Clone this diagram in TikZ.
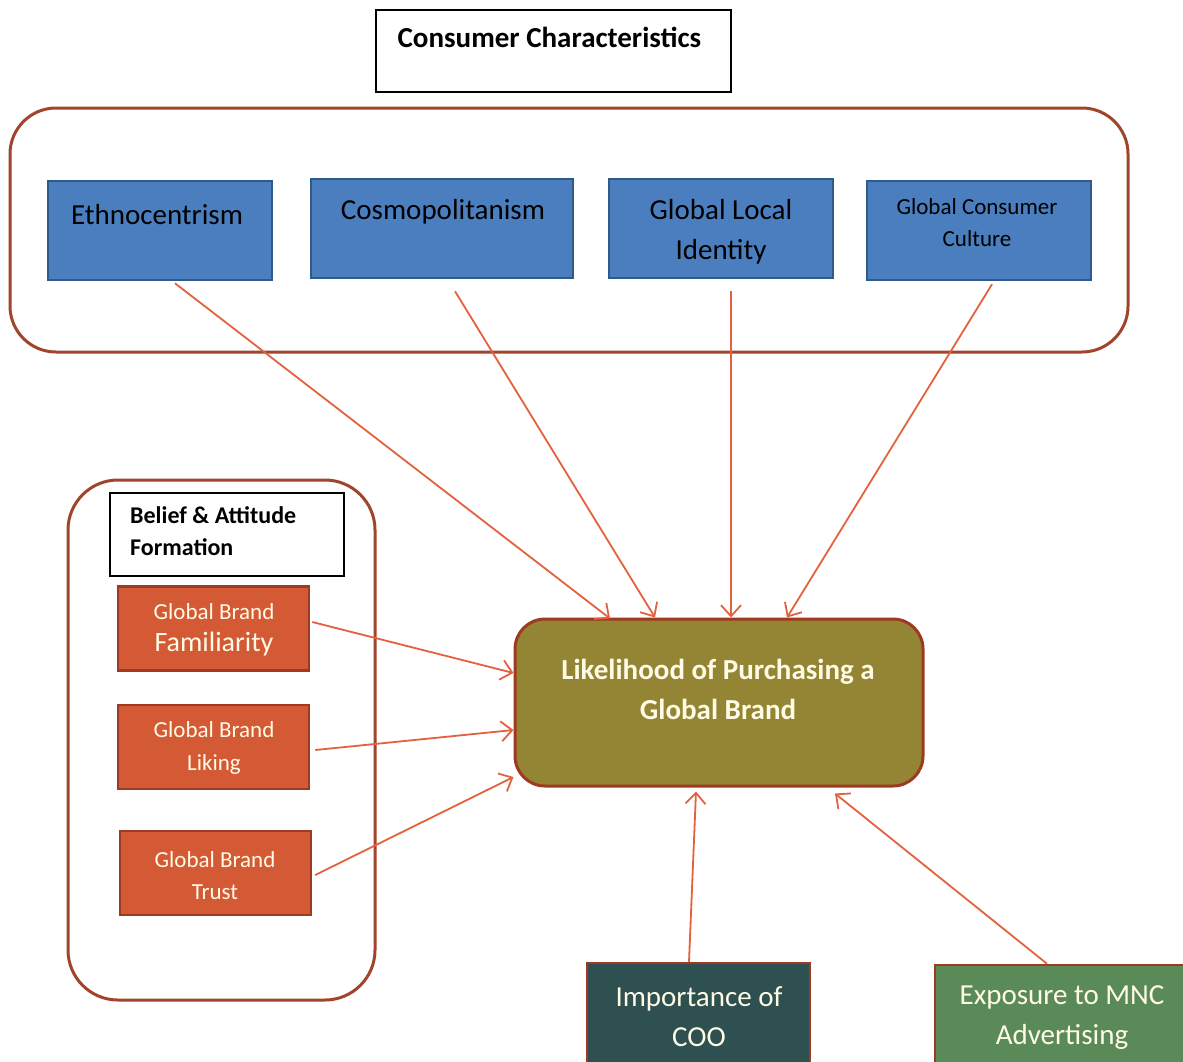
\documentclass[tikz,border=0pt]{standalone}
\usepackage{fontspec}
\setmainfont{Carlito}
\usepackage{xcolor}
\usepackage{tikz}
\usetikzlibrary{arrows.meta,calc}

\definecolor{chblue}{HTML}{4A7EBE}
\definecolor{blueedge}{HTML}{2F5A8A}
\definecolor{framered}{HTML}{A0442B}
\definecolor{brandred}{HTML}{D45A36}
\definecolor{brandedge}{HTML}{9E3A22}
\definecolor{olive}{HTML}{938533}
\definecolor{teal}{HTML}{2E5050}
\definecolor{mncgreen}{HTML}{5A8A58}
\definecolor{arrowred}{HTML}{E4613F}
\definecolor{lighttext}{HTML}{FFFBE6}

\begin{document}
\begin{tikzpicture}[x=1pt,y=-1pt,>={Straight Barb[length=11pt,width=20pt]},
  frame/.style={draw=framered,line width=3pt,rounded corners=46pt},
  headbox/.style={draw=black,line width=2pt,fill=white,inner sep=0pt},
  cbox/.style={draw=blueedge,line width=2.5pt,fill=chblue,inner sep=0pt,minimum width=224,minimum height=99},
  bbox/.style={draw=brandedge,line width=2.5pt,fill=brandred,inner sep=0pt,minimum width=191,minimum height=84},
  obox/.style={draw=brandedge,line width=2.5pt,inner sep=0pt,minimum height=100},
  big/.style={font=\fontsize{29}{40}\selectfont,align=center,inner sep=0pt},
  link/.style={->,draw=arrowred,line width=1.8pt}]
\useasboundingbox (0,0) rectangle (1183,1061);
\clip (0,0) rectangle (1183,1061);

% consumer characteristics
\node[headbox,minimum width=355,minimum height=82] (head) at (553.5,51) {};
\node[big,font=\fontsize{29}{40}\selectfont\bfseries] (headtxt) at (549.5,37) {Consumer Characteristics};
\draw[frame] (10,108) rectangle (1128,352);

\node[cbox] (eth) at (160,230.5) {};
\node[cbox,minimum width=262] (cos) at (442,228.5) {};
\node[cbox] (gli) at (721,228.5) {};
\node[cbox] (gcc) at (979,230.5) {};
\node[big] (ethtxt) at (157,215) {Ethnocentrism};
\node[big] (costxt) at (443,212) {Cosmopolitanism};
\node[big] (glitxt) at (721,232) {Global Local\\Identity};
\node[big,font=\fontsize{23}{32}\selectfont] (gcctxt) at (977,223) {Global Consumer\\Culture};

% belief and attitude formation
\draw[frame,rounded corners=50pt] (68,480) rectangle (375,1000);
\node[headbox,minimum width=234,minimum height=83] (belief) at (227,534.5) {};
\node[big,font=\fontsize{24}{32}\selectfont\bfseries,align=left,anchor=west] (belieftxt) at (130,531) {Belief \& Attitude\\Formation};

\node[bbox] (fam) at (213.5,628.5) {};
\node[bbox] (lik) at (213.5,747) {};
\node[bbox] (tru) at (215.5,873) {};
\node[big,font=\fontsize{23}{32}\selectfont,text=lighttext] (famtxt) at (214,630) {Global Brand\\{\fontsize{28}{32}\selectfont Familiarity}};
\node[big,font=\fontsize{23}{33}\selectfont,text=lighttext] (liktxt) at (214,747.5) {Global Brand\\Liking};
\node[big,font=\fontsize{23}{32}\selectfont,text=lighttext] (trutxt) at (215,876) {Global Brand\\Trust};

% outcome
\node[draw=brandedge,line width=3pt,fill=olive,rounded corners=30pt,minimum width=408,minimum height=167] (lpg) at (719,702.5) {};
\node[big,font=\fontsize{29}{40}\selectfont\bfseries,text=lighttext] (lpgtxt) at (718,689) {Likelihood of Purchasing a\\Global Brand};

\node[obox,fill=teal,minimum width=223] (coo) at (698.5,1013) {};
\node[obox,fill=mncgreen,minimum width=252] (mnc) at (1061,1015) {};
\node[big,text=lighttext] (cootxt) at (699,1016.5) {Importance of\\COO};
\node[big,text=lighttext] (mnctxt) at (1062,1018) {Exposure to MNC\\Advertising};

% arrows
\draw[link] ($(eth.south)+(15,2)$) -- ($(lpg.north)+(-109,1)$);
\draw[link] ($(cos.south)+(13,12)$) -- ($(lpg.north)+(-64,0)$);
\draw[link] ($(gli.south)+(10,12)$) -- ($(lpg.north)+(12,0)$);
\draw[link] ($(gcc.south)+(13,3)$) -- ($(lpg.north)+(68,0)$);
\draw[link] ($(fam.east)+(2,-6.5)$) -- ($(lpg.west)+(0,-29.5)$);
\draw[link] ($(lik.east)+(5,3)$) -- ($(lpg.west)+(0,27.5)$);
\draw[link] ($(tru.east)+(3,2)$) -- ($(lpg.west)+(0,74.5)$);
\draw[link] ($(coo.north)+(-9.5,0)$) -- ($(lpg.south)+(-23,4)$);
\draw[link] ($(mnc.north)+(-14,0)$) -- ($(lpg.south)+(116,6)$);
\end{tikzpicture}
\end{document}
